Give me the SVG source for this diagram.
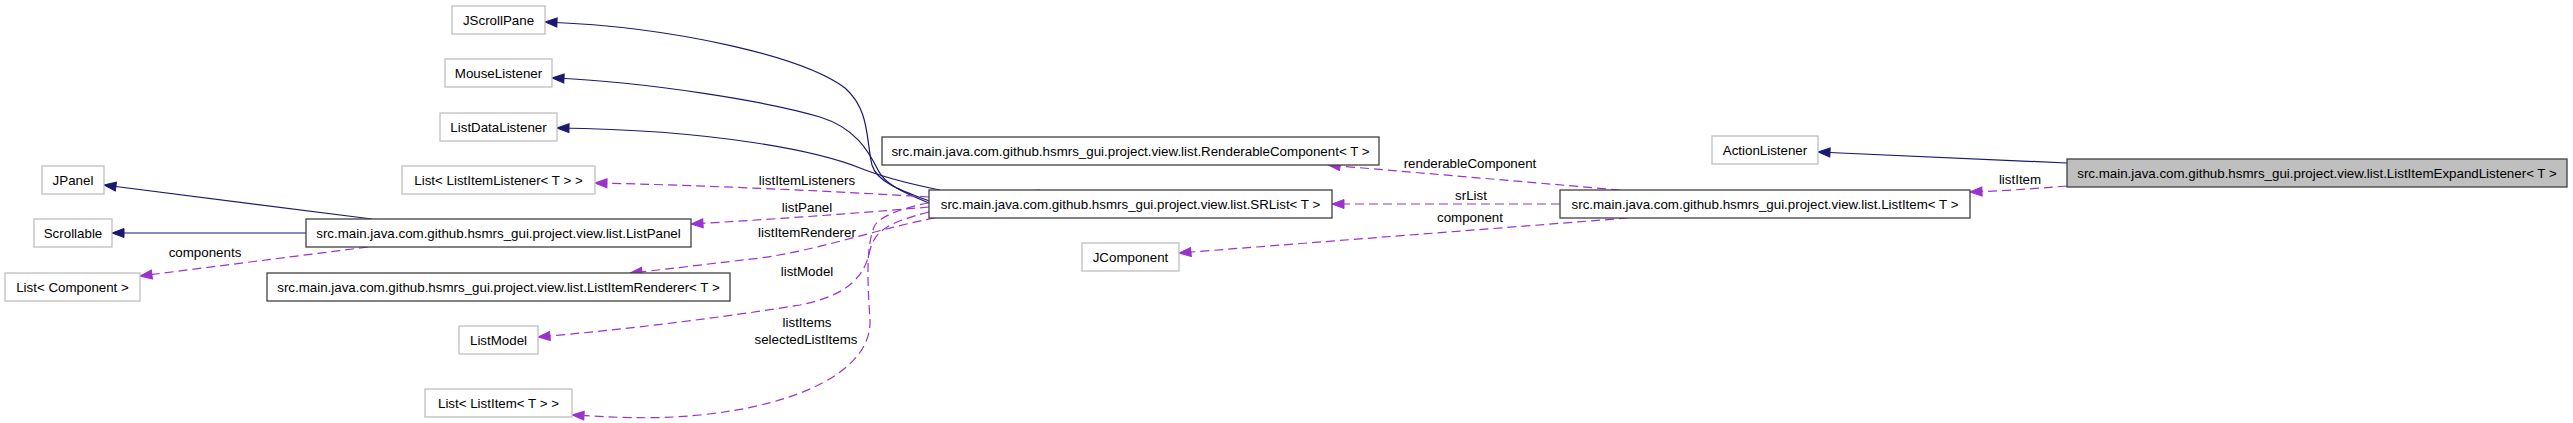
<svg xmlns="http://www.w3.org/2000/svg" width="2573" height="423" viewBox="0 0 2573 423">
<style>
text{font-family:"Liberation Sans",Arial,Helvetica,sans-serif;font-size:13.33px;fill:#000}
.n text{text-anchor:middle}
.ext{fill:#fff;stroke:#bfbfbf;stroke-width:1.3}
.cls{fill:#fff;stroke:#404040;stroke-width:1.3}
.cur{fill:#bfbfbf;stroke:#404040;stroke-width:1.3}
.inh{fill:none;stroke:#191970;stroke-width:1.2}
.use{fill:none;stroke:#9a32cd;stroke-width:1.2;stroke-dasharray:9,5}
.lbl{text-anchor:middle}
</style>
<defs>
<marker id="ah" markerUnits="userSpaceOnUse" markerWidth="14" markerHeight="11" viewBox="0 0 14 11" refX="13" refY="5.5" orient="auto"><path d="M1,1 L13,5.5 L1,10 z" fill="#191970" stroke="#191970"/></marker>
<marker id="au" markerUnits="userSpaceOnUse" markerWidth="14" markerHeight="11" viewBox="0 0 14 11" refX="13" refY="5.5" orient="auto"><path d="M1,1 L13,5.5 L1,10 z" fill="#9a32cd" stroke="#9a32cd"/></marker>
</defs>
<rect width="2573" height="423" fill="#fff"/>
<g id="connectors">
<path class="inh" marker-end="url(#ah)" d="M929,201 C900,190 877,182 872,165 C866,140 870,110 845,88 C805,58 680,27 545,22"/>
<path class="inh" marker-end="url(#ah)" d="M929,203 C905,193 885,185 878,170 C868,150 855,128 820,117 C770,102 650,82 552,78"/>
<path class="inh" marker-end="url(#ah)" d="M940,190 C910,184 880,176 860,168 C820,152 720,130 557,128"/>
<path class="inh" marker-end="url(#ah)" d="M372,219 L104,185"/>
<path class="inh" marker-end="url(#ah)" d="M306,233 L112,233"/>
<path class="use" marker-end="url(#au)" d="M368,247 L140,276"/>
<path class="use" marker-end="url(#au)" d="M929,197 C850,192 700,185 595,183"/>
<path class="use" marker-end="url(#au)" d="M929,207 C850,214 760,220 691,224"/>
<path class="use" marker-end="url(#au)" d="M935,218 C880,228 820,250 760,258 C700,265 660,270 630,273"/>
<path class="use" marker-end="url(#au)" d="M929,212 C890,222 875,230 870,250 C865,275 850,295 800,305 C720,318 620,330 538,337"/>
<path class="use" marker-end="url(#au)" d="M1040,190 C960,195 890,205 875,225 C865,245 868,290 870,320 C872,370 800,405 700,415 C650,420 610,417 572,415"/>
<path class="use" marker-end="url(#au)" d="M1620,190 L1328,165"/>
<path class="use" marker-end="url(#au)" d="M1560,204 L1332,204"/>
<path class="use" marker-end="url(#au)" d="M1628,218 L1179,253"/>
<path class="use" marker-end="url(#au)" d="M2067,186 C2030,189 2000,191 1970,192"/>
<path class="inh" marker-end="url(#ah)" d="M2067,163 L1818,152"/>
<text class="lbl" x="205" y="257">components</text>
<text class="lbl" x="807" y="185">listItemListeners</text>
<text class="lbl" x="807" y="212">listPanel</text>
<text class="lbl" x="807" y="237">listItemRenderer</text>
<text class="lbl" x="807" y="276">listModel</text>
<text class="lbl" x="807" y="327">listItems</text>
<text class="lbl" x="806" y="344">selectedListItems</text>
<text class="lbl" x="1470" y="168">renderableComponent</text>
<text class="lbl" x="1471" y="200">srList</text>
<text class="lbl" x="1470" y="222">component</text>
<text class="lbl" x="2020" y="184">listItem</text>
</g>
<g id="JScrollPane" class="n"><rect class="ext" x="452" y="6" width="93" height="28"/><text x="498.5" y="24.5">JScrollPane</text></g>
<g id="MouseListener" class="n"><rect class="ext" x="445" y="59" width="107" height="28"/><text x="498.5" y="77.5">MouseListener</text></g>
<g id="ListDataListener" class="n"><rect class="ext" x="440" y="113" width="117" height="28"/><text x="498.5" y="131.5">ListDataListener</text></g>
<g id="ListItemListenerList" class="n"><rect class="ext" x="402" y="166" width="193" height="28"/><text x="498.5" y="184.5">List&lt; ListItemListener&lt; T &gt; &gt;</text></g>
<g id="JPanel" class="n"><rect class="ext" x="42" y="166" width="62" height="28"/><text x="73" y="184.5">JPanel</text></g>
<g id="Scrollable" class="n"><rect class="ext" x="34" y="219" width="78" height="28"/><text x="73" y="237.5">Scrollable</text></g>
<g id="ListPanel" class="n"><rect class="cls" x="306" y="219" width="385" height="28"/><text x="498.5" y="237.5">src.main.java.com.github.hsmrs_gui.project.view.list.ListPanel</text></g>
<g id="ComponentList" class="n"><rect class="ext" x="5" y="273" width="135" height="28"/><text x="72.5" y="291.5">List&lt; Component &gt;</text></g>
<g id="ListItemRenderer" class="n"><rect class="cls" x="267" y="273" width="463" height="28"/><text x="498.5" y="291.5">src.main.java.com.github.hsmrs_gui.project.view.list.ListItemRenderer&lt; T &gt;</text></g>
<g id="ListModel" class="n"><rect class="ext" x="459" y="326" width="79" height="28"/><text x="498.5" y="344.5">ListModel</text></g>
<g id="ListItemList" class="n"><rect class="ext" x="425" y="389" width="147" height="28"/><text x="498.5" y="407.5">List&lt; ListItem&lt; T &gt; &gt;</text></g>
<g id="SRList" class="n"><rect class="cls" x="929" y="190" width="403" height="28"/><text x="1130.5" y="208.5">src.main.java.com.github.hsmrs_gui.project.view.list.SRList&lt; T &gt;</text></g>
<g id="RenderableComponent" class="n"><rect class="cls" x="882" y="137" width="497" height="28"/><text x="1130.5" y="155.5">src.main.java.com.github.hsmrs_gui.project.view.list.RenderableComponent&lt; T &gt;</text></g>
<g id="JComponent" class="n"><rect class="ext" x="1082" y="243" width="97" height="28"/><text x="1130.5" y="261.5">JComponent</text></g>
<g id="ListItem" class="n"><rect class="cls" x="1560" y="190" width="410" height="28"/><text x="1765" y="208.5">src.main.java.com.github.hsmrs_gui.project.view.list.ListItem&lt; T &gt;</text></g>
<g id="ActionListener" class="n"><rect class="ext" x="1712" y="136" width="106" height="28"/><text x="1765" y="154.5">ActionListener</text></g>
<g id="ListItemExpandListener" class="n"><rect class="cur" x="2067" y="159" width="500" height="28"/><text x="2317" y="177.5">src.main.java.com.github.hsmrs_gui.project.view.list.ListItemExpandListener&lt; T &gt;</text></g>
</svg>
